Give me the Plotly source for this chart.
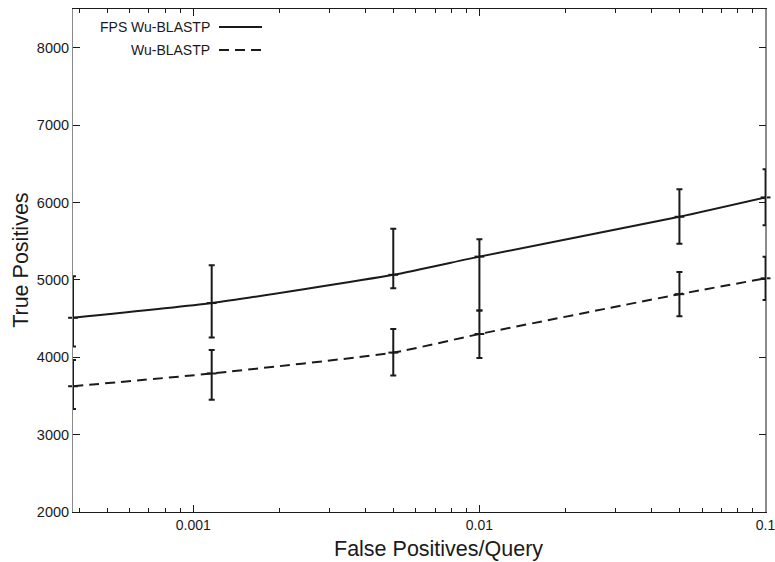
import numpy as np
import plotly.graph_objects as go

# ---- data ----
fp_query = [0.00038, 0.00116, 0.005, 0.01, 0.05, 0.1]

fps_tp = [4510, 4700, 5065, 5300, 5815, 6065]
fps_hi = [5045, 5190, 5660, 5525, 6170, 6430]
fps_lo = [4140, 4255, 4890, 4605, 5465, 5705]

wu_tp = [3625, 3790, 4060, 4300, 4815, 5020]
wu_hi = [3965, 4095, 4365, 4605, 5100, 5300]
wu_lo = [3330, 3450, 3765, 3990, 4530, 4740]

series_names = ["FPS Wu-BLASTP", "Wu-BLASTP"]

x_tickvals = [0.001, 0.01, 0.1]
x_ticktext = ["0.001", "0.01", "0.1"]
y_tickvals = [2000, 3000, 4000, 5000, 6000, 7000, 8000]

FONT = "Liberation Sans, Arial, sans-serif"
INK = "#1a1a1a"

fig = go.Figure()


def add_series(y, hi, lo, dash, name):
    fig.add_trace(go.Scatter(
        x=fp_query, y=y, name=name, mode="lines+markers",
        line=dict(color=INK, width=2, dash=dash, shape="spline", smoothing=0.5),
        marker=dict(symbol="line-ew", size=7, line=dict(color=INK, width=2)),
        error_y=dict(type="data", symmetric=False,
                     array=[h - v for h, v in zip(hi, y)],
                     arrayminus=[v - l for v, l in zip(y, lo)],
                     color=INK, thickness=2, width=3),
        cliponaxis=False, showlegend=False,
    ))


add_series(fps_tp, fps_hi, fps_lo, "solid", series_names[0])
add_series(wu_tp, wu_hi, wu_lo, "10px,6px", series_names[1])

minor_vals = []
for d in [0.0001, 0.001, 0.01]:
    for k in range(2, 10):
        v = k * d
        if fp_query[0] < v < 0.1:
            minor_vals.append(v)

fig.update_xaxes(
    type="log", range=[np.log10(fp_query[0]), np.log10(0.1) + 0.0015],
    tickvals=x_tickvals, ticktext=x_ticktext,
    ticks="inside", ticklen=7, tickwidth=1, tickcolor=INK,
    minor=dict(tickvals=minor_vals, ticks="inside", ticklen=4, tickcolor=INK, showgrid=False),
    showline=True, linecolor=INK, linewidth=1, mirror="ticks",
    showgrid=False, zeroline=False, ticklabeloverflow="allow", automargin=False,
    tickfont=dict(family=FONT, size=14, color=INK),
)
fig.update_yaxes(
    range=[2000, 8500], tickvals=y_tickvals,
    ticks="inside", ticklen=7, tickwidth=1, tickcolor=INK,
    showline=True, linecolor="#8a8a8a", linewidth=1, mirror="ticks",
    showgrid=False, zeroline=False, automargin=False,
    tickfont=dict(family=FONT, size=14.5, color=INK),
)

# right border darker
fig.add_shape(type="line", xref="paper", yref="paper", x0=1, x1=1, y0=0, y1=1,
              line=dict(color=INK, width=1), layer="below")

annotations = [
    dict(text="False Positives/Query", xref="paper", yref="paper",
         x=0.527, y=-0.073, xanchor="center", yanchor="middle", showarrow=False,
         font=dict(family=FONT, size=21.5, color=INK)),
    dict(text="True Positives", xref="paper", yref="paper",
         x=-0.076, y=0.5, xanchor="center", yanchor="middle", textangle=-90, showarrow=False,
         font=dict(family=FONT, size=21.5, color=INK)),
]

# legend (gnuplot style: text then line sample)
leg_y = [27, 50]
leg_dash = ["solid", "10px,6px"]
plot_top, plot_bottom, plot_left, plot_right = 9, 512.5, 73, 766
for name, py, dash in zip(series_names, leg_y, leg_dash):
    yp = (plot_bottom - py) / (plot_bottom - plot_top)
    annotations.append(dict(text=name, xref="paper", yref="paper",
                            x=(212 - plot_left) / (plot_right - plot_left), y=yp,
                            xanchor="right", yanchor="middle", showarrow=False,
                            font=dict(family=FONT, size=14, color=INK)))
    fig.add_shape(type="line", xref="paper", yref="paper",
                  x0=(219 - plot_left) / (plot_right - plot_left),
                  x1=(262 - plot_left) / (plot_right - plot_left),
                  y0=yp, y1=yp, line=dict(color=INK, width=2, dash=dash))

fig.update_layout(
    width=775, height=562,
    margin=dict(l=73, r=9, t=9, b=49.5),
    paper_bgcolor="white", plot_bgcolor="white",
    annotations=annotations,
    font=dict(family=FONT, color=INK),
)

fig.write_html("out.html")
